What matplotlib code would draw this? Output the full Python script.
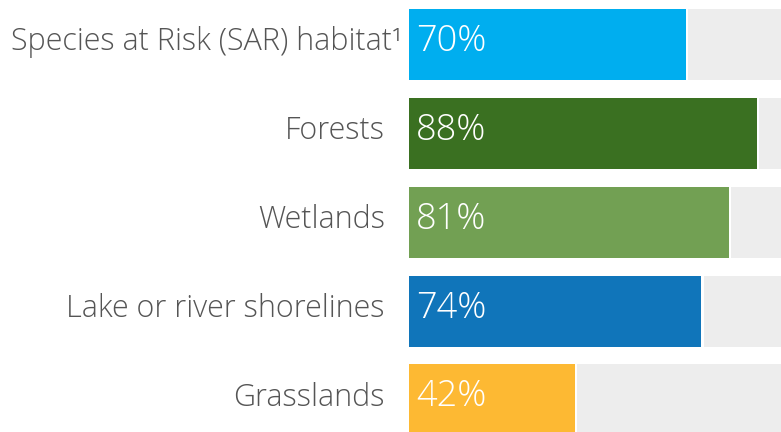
import matplotlib
matplotlib.use("Agg")
import matplotlib.pyplot as plt

categories = ["Species at Risk (SAR) habitat\u00b9", "Forests", "Wetlands",
              "Lake or river shorelines", "Grasslands"]
values = [70, 88, 81, 74, 42]
value_labels = ["70%", "88%", "81%", "74%", "42%"]
colors = ["#00AEEF", "#3A7021", "#72A053", "#1075BA", "#FDB933"]

plt.rcParams['font.family'] = ['Open Sans', 'DejaVu Sans']

fig = plt.figure(figsize=(7.81, 4.32), dpi=100)
ax = fig.add_axes([409 / 781, 0, 372 / 781, 1])
ax.set_xlim(0, 372 / 3.95)
ax.set_ylim(4.36, -0.5)
ax.axis('off')

ys = list(range(len(categories)))
h = 0.8
gap = 0.6
for y, v, c, lab, cat in zip(ys, values, colors, value_labels, categories):
    ax.barh(y, 100 - v - gap, left=v + gap, height=h, color="#EDEDED", linewidth=0)
    ax.barh(y, v, height=h, color=c, linewidth=0)
    ax.annotate(lab, xy=(0, y), xytext=(7, 3), textcoords='offset pixels',
                ha='left', va='center', color='white', fontsize=26, fontweight='light')
    off = -7 if y == 0 else -24
    ax.annotate(cat, xy=(0, y), xytext=(off, 2), textcoords='offset pixels',
                ha='right', va='center', color='#555555', fontsize=22, fontweight='light',
                annotation_clip=False)

fig.savefig("out.png", dpi=100)
